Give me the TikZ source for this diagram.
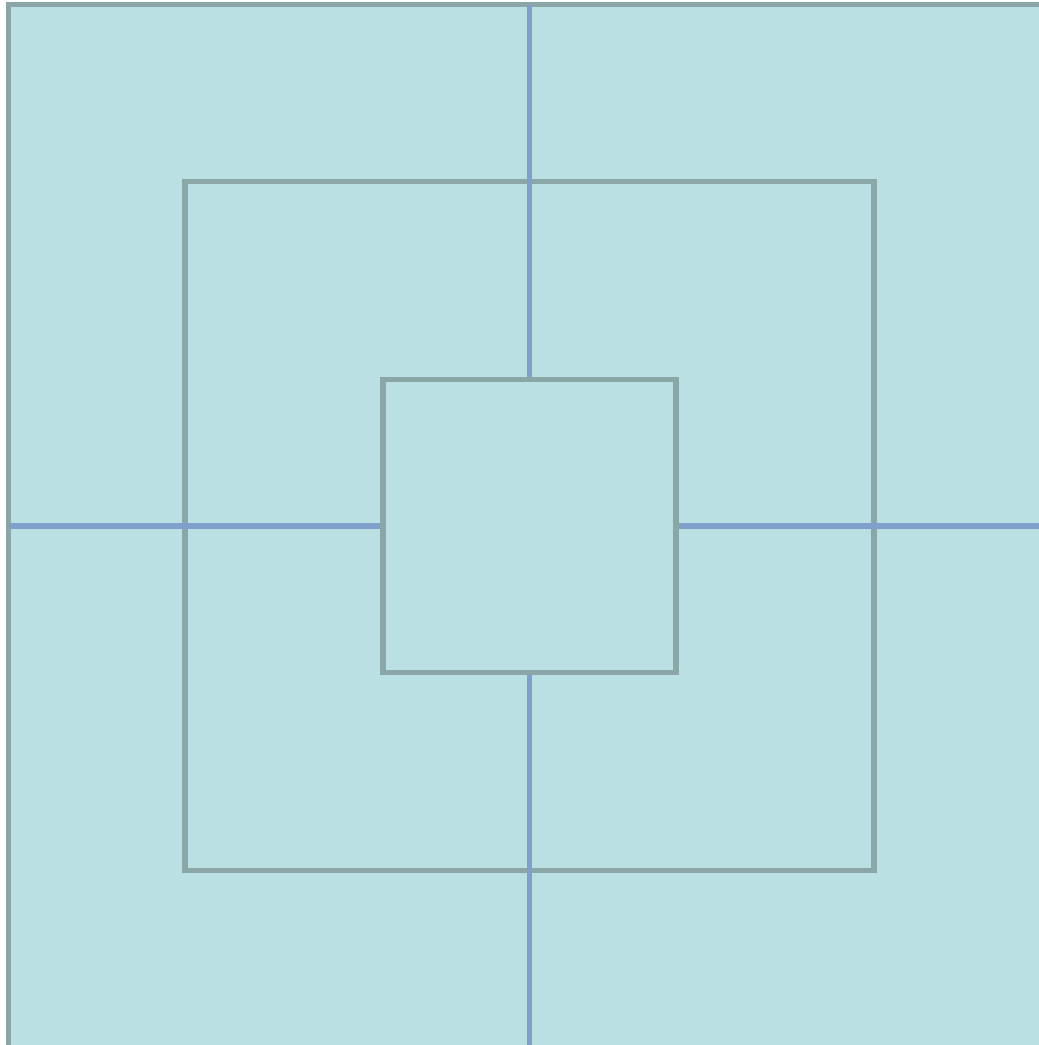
\documentclass[tikz,border=0pt]{standalone}
\usetikzlibrary{positioning}
\definecolor{Pool}{HTML}{BAE0E3}
\definecolor{Frame}{HTML}{8AA6A7}
\definecolor{Spoke}{HTML}{7FA0CA}

\begin{document}
\begin{tikzpicture}[
  x=1pt, y=-1pt,
  square/.style={draw=Frame, line width=5.5pt, minimum size=#1, inner sep=0pt, outer sep=0pt},
  spoke/.style={draw=Spoke, line width=5.5pt}
]
  \useasboundingbox (0,0) rectangle (1039,1045);
  \clip (0,0) rectangle (1039,1045);
  \node[square=1070pt, fill=Pool, anchor=north west] (outer) at (8.5,4.5) {};
  \node[square=689pt] (middle) at (529.5,526) {};
  \node[square=293pt] (inner) at (529.5,526) {};
  \draw[spoke] (inner |- outer.north) -- (inner.north);
  \draw[spoke] (inner |- outer.south) -- (inner.south);
  \draw[spoke] (inner -| outer.west) -- (inner.west);
  \draw[spoke] (inner -| outer.east) -- (inner.east);
  \node[square=293pt] at (inner) {};
\end{tikzpicture}
\end{document}
